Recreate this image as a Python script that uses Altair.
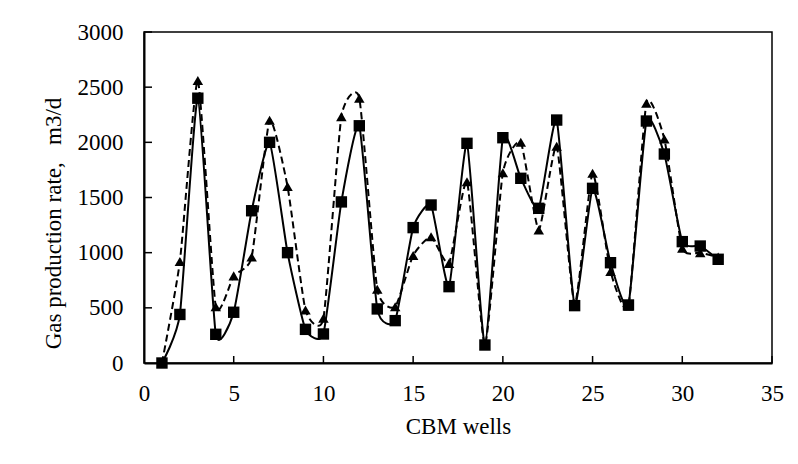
import altair as alt
import pandas as pd

wells = list(range(1, 33))
measured = [0, 440, 2400, 260, 460, 1380, 2000, 1000, 305, 263, 1460, 2150, 490, 384,
            1227, 1432, 692, 1991, 163, 2042, 1674, 1402, 2202, 520, 1583, 909, 526,
            2193, 1894, 1100, 1060, 940]
simulated = [0, 920, 2560, 510, 790, 960, 2200, 1600, 480, 405, 2233, 2400, 668, 510,
             975, 1145, 903, 1643, 160, 1725, 2000, 1205, 1965, 530, 1720, 830, 515,
             2354, 2030, 1040, 1000, 960]
x_tick_values = [0, 5, 10, 15, 20, 25, 30, 35]
y_tick_values = [0, 500, 1000, 1500, 2000, 2500, 3000]
x_title = "CBM wells"
y_title = "Gas production rate,\u00a0\u00a0\u00a0m3/d"

FONT = "Liberation Serif, Times New Roman, Times, serif"
FS = 23
W, H = 628, 331

df = pd.DataFrame({"x": wells, "measured": measured, "simulated": simulated})
xt = pd.DataFrame({"x": x_tick_values[1:]})
yt = pd.DataFrame({"y": y_tick_values[1:]})

xs = alt.Scale(domain=[0, 35], nice=False, zero=False)
ys = alt.Scale(domain=[0, 3000], nice=False)

xax = alt.Axis(values=x_tick_values, title=x_title, grid=False, ticks=False, tickSize=0,
               format="d", labelFlush=False, labelOverlap=False,
               labelPadding=19, titlePadding=10, domainColor="black", domainWidth=2,
               labelFont=FONT, labelFontSize=FS, labelColor="black",
               titleFont=FONT, titleFontSize=FS, titleFontWeight="normal", titleColor="black")
yax = alt.Axis(values=y_tick_values, title=y_title, grid=False, ticks=False, tickSize=0,
               format="d", labelFlush=False, labelOverlap=False,
               labelPadding=21, titlePadding=12, titleY=191, titleAlign="center",
               domainColor="black", domainWidth=2,
               labelFont=FONT, labelFontSize=FS, labelColor="black",
               titleFont=FONT, titleFontSize=FS, titleFontWeight="normal", titleColor="black")

base = alt.Chart(df)

sim_line = base.mark_line(interpolate="cardinal", tension=0.5, color="black",
                          strokeWidth=2, strokeDash=[7, 4]).encode(
    x=alt.X("x:Q", scale=xs, axis=xax),
    y=alt.Y("simulated:Q", scale=ys, axis=yax),
)
sim_pts = base.mark_point(shape="triangle-up", filled=True, color="black", size=110,
                          opacity=1).encode(
    x=alt.X("x:Q", scale=xs),
    y=alt.Y("simulated:Q", scale=ys),
)
meas_line = base.mark_line(interpolate="cardinal", tension=0.5, color="black",
                           strokeWidth=2).encode(
    x=alt.X("x:Q", scale=xs),
    y=alt.Y("measured:Q", scale=ys),
)
meas_pts = base.mark_point(shape="square", filled=True, color="black", size=130,
                           opacity=1).encode(
    x=alt.X("x:Q", scale=xs),
    y=alt.Y("measured:Q", scale=ys),
)

x_ticks = alt.Chart(xt).mark_rule(color="black", strokeWidth=1.5).encode(
    x=alt.X("x:Q", scale=xs),
    y=alt.value(H),
    y2=alt.value(H - 7),
)
y_ticks = alt.Chart(yt).mark_rule(color="black", strokeWidth=1.5).encode(
    y=alt.Y("y:Q", scale=ys),
    x=alt.value(0),
    x2=alt.value(8),
)

chart = alt.layer(sim_line, sim_pts, meas_line, meas_pts, x_ticks, y_ticks).properties(
    width=W, height=H,
    autosize=alt.AutoSizeParams(type="none"),
    padding={"left": 136, "top": 24, "right": 18, "bottom": 93},
    background="white",
).configure_view(stroke="black", strokeWidth=1.5)

chart.save("out.html", embed_options={"renderer": "svg", "actions": False})
